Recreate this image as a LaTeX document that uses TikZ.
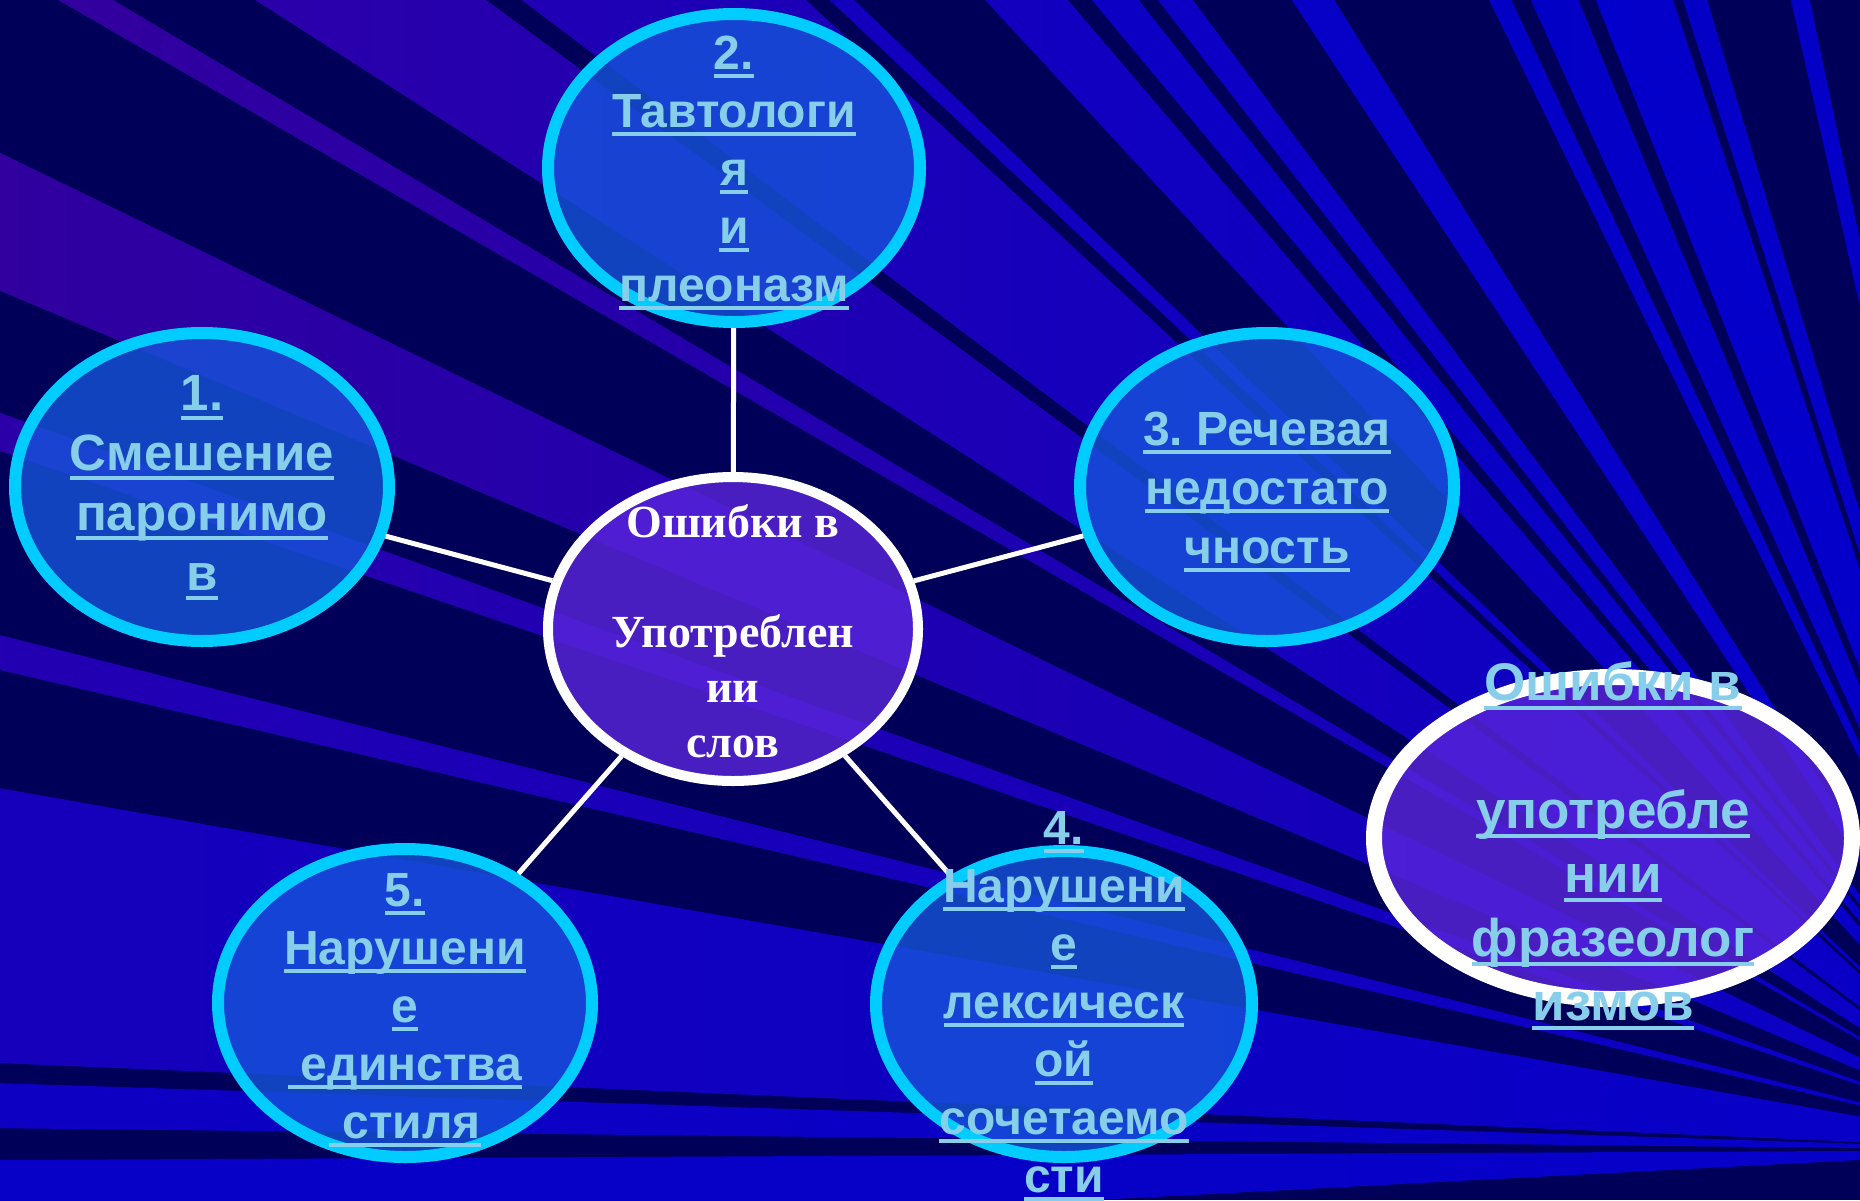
\documentclass[tikz,border=0pt]{standalone}
\usepackage{fontspec}
\setmainfont{Liberation Sans}
\newfontfamily\timesf{Liberation Serif}
\usetikzlibrary{shapes.geometric}
\frenchspacing
\definecolor{bgdark}{HTML}{000058}
\definecolor{blR}{HTML}{0600C8}
\definecolor{puA}{HTML}{3C0094}
\definecolor{puB}{HTML}{3600A0}
\definecolor{puC}{HTML}{2C00AA}
\definecolor{pbA}{HTML}{1C00B6}
\definecolor{blA}{HTML}{1000C0}
\definecolor{blB}{HTML}{0800C6}
\definecolor{blC}{HTML}{0000C4}
\definecolor{blD}{HTML}{0000CE}
\definecolor{cyanb}{HTML}{00CCFF}
\definecolor{skyb}{HTML}{87CEEB}
\definecolor{efill}{HTML}{1656DC}
\definecolor{pfill}{HTML}{5A26DC}
\newsavebox\ulbox
\newcommand\ul[1]{\sbox\ulbox{#1}\rlap{\rule[-0.18em]{\wd\ulbox}{0.08em}}\usebox\ulbox}
\begin{document}
\begin{tikzpicture}[x=1pt,y=-1pt,
  ebox/.style={ellipse, draw=cyanb, line width=12pt, fill=efill, fill opacity=0.78, inner sep=0pt},
  cbox/.style={ellipse, draw=white, line width=10pt, fill=pfill, fill opacity=0.8, inner sep=0pt},
  rbox/.style={ellipse, draw=white, line width=16pt, fill=pfill, fill opacity=0.8, inner sep=0pt},
  conn/.style={draw=white, line width=5pt},
  lbl/.style={text=skyb, font=\fontsize{48}{58}\selectfont\bfseries, align=center, inner sep=0pt},
  rlbl/.style={text=skyb, font=\fontsize{53}{64}\selectfont\bfseries, align=center, inner sep=0pt},
  clbl/.style={text=white, font=\timesf\fontsize{46}{55}\selectfont\bfseries, align=center, inner sep=0pt}]
\useasboundingbox (0,0) rectangle (1860,1200);
% background rays
\begin{scope}
\clip (0,0) rectangle (1860,1200);
\fill[bgdark] (0,0) rectangle (1860,1200);
\coordinate (apex) at (2050,1150);
\foreach \a/\b/\c in {-3/-0.28/blB, 0.61/1.87/blA, 2.43/10.01/pbA, 13.18/14.1/puC,
  18.83/19.78/puB, 22.74/25.94/puA, 30.0/30.7/puA, 32.65/36.33/puB, 36.96/42.75/puC,
  43.3/43.88/pbA, 47.2/49.5/pbA, 50.2/51.6/blA, 52.2/53.3/blA, 56.6/58.1/blB,
  64.0/64.9/blC, 65.7/67.7/blC, 68.45/71.85/blD, 72.3/73.4/blC, 77.3/78.2/blC,
  82/84/blC, 86/88/blB}
{\shade[left color=\c, right color=blR] (apex) -- +(180+\a:2800) -- +(180+\b:2800) -- cycle;}
\end{scope}
% ellipses
\node[ebox, minimum width=374pt, minimum height=308pt] (e1) at (202,487) {};
\node[ebox, minimum width=372pt, minimum height=308pt] (e2) at (734,168) {};
\node[ebox, minimum width=374pt, minimum height=308pt] (e3) at (1267,487) {};
\node[ebox, minimum width=376pt, minimum height=306pt] (e4) at (1064,1004) {};
\node[ebox, minimum width=374pt, minimum height=308pt] (e5) at (405,1003) {};
\node[cbox, minimum width=370pt, minimum height=304pt] (c) at (733,629) {};
\node[rbox, minimum width=478pt, minimum height=322pt] (r) at (1613,838) {};
% connectors
\draw[conn] (e2) -- (c);
\draw[conn] (e1) -- (c);
\draw[conn] (e3) -- (c);
\draw[conn] (e4) -- (c);
\draw[conn] (e5) -- (c);
% texts
\node[lbl, font=\fontsize{51}{60}\selectfont\bfseries, yshift=-1pt] (t1) at (e1.center) {\ul{1.}\\\ul{Смешение}\\\ul{паронимо}\\\ul{в}};
\node[lbl, yshift=-5pt] (t2) at (e2.center) {\ul{2.}\\\ul{Тавтологи}\\\ul{я}\\\ul{и}\\\ul{плеоназм}};
\node[lbl, font=\fontsize{48}{59}\selectfont\bfseries, yshift=-5pt] (t3) at (e3.center) {\ul{3. Речевая}\\\ul{недостато}\\\ul{чность}};
\node[lbl, yshift=-2pt] (t4) at (e4.center) {\ul{4.}\\\ul{Нарушени}\\\ul{е}\\\ul{лексическ}\\\ul{ой}\\\ul{сочетаемо}\\\ul{сти}};
\node[lbl, yshift=-7pt] (t5) at (e5.center) {\ul{5.}\\\ul{Нарушени}\\\ul{е}\\\ul{\ единства}\\\ul{\ стиля}};
\node[clbl, yshift=-2pt] (tc) at (c.center) {Ошибки в\\\mbox{}\\Употреблен\\ии\\слов};
\node[rlbl, yshift=-8pt] (tr) at (r.center) {\ul{Ошибки в}\\\mbox{}\\\ul{употребле}\\\ul{нии}\\\ul{фразеолог}\\\ul{измов}};
\end{tikzpicture}
\end{document}
